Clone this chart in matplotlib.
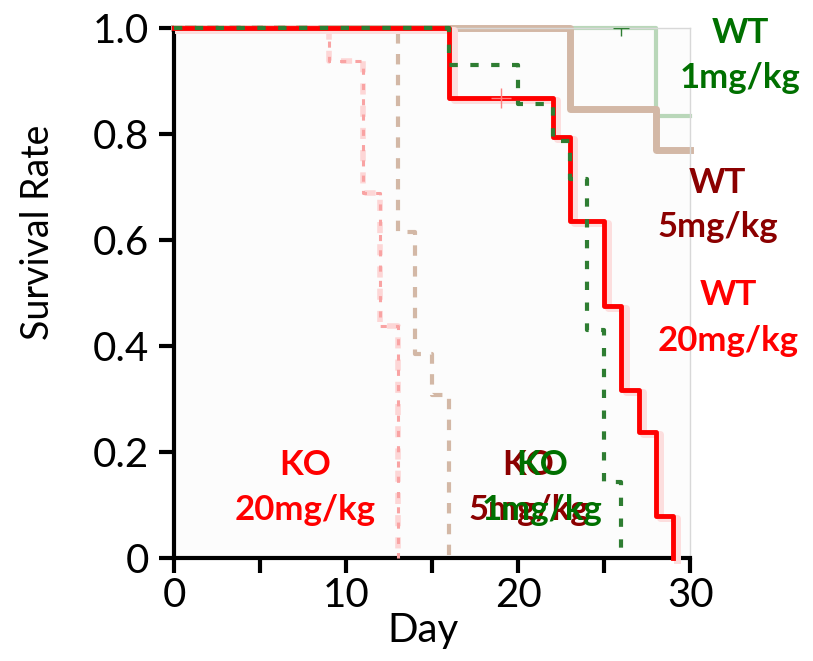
import matplotlib.pyplot as plt

plt.rcParams['font.family'] = ['Lato', 'DejaVu Sans']

# Kaplan-Meier style survival steps (day, survival)
ko20_t = [0, 9, 11, 12, 13]
ko20_s = [1.0, 0.9375, 0.6875, 0.4375, 0.0]
ko5_t = [0, 13, 14, 15, 16]
ko5_s = [1.0, 0.615, 0.385, 0.308, 0.0]
ko1_t = [0, 16, 20, 22, 23, 24, 25, 26]
ko1_s = [1.0, 0.929, 0.857, 0.786, 0.714, 0.429, 0.143, 0.0]
wt20_t = [0, 16, 22, 23, 25, 26, 27, 28, 29]
wt20_s = [1.0, 0.867, 0.794, 0.635, 0.476, 0.317, 0.238, 0.079, 0.0]
wt5_t = [0, 23, 28, 30]
wt5_s = [1.0, 0.846, 0.769, 0.769]
wt1_t = [0, 28, 30]
wt1_s = [1.0, 0.833, 0.833]

# censored observations
wt20_cens = ([19], [0.867])
wt1_cens = ([26], [1.0])

fig = plt.figure(figsize=(8.13, 6.61), dpi=100)
ax = fig.add_axes([0.214, 0.156, 0.635, 0.802])
ax.set_facecolor('#fcfcfc')

# WT 1 mg/kg
ax.step(wt1_t, wt1_s, where='post', color='#b9d7b9', lw=3, clip_on=False, zorder=2)
ax.plot(*wt1_cens, '+', color='#2e7d32', ms=12, mew=1, zorder=3)
# WT 5 mg/kg
ax.step(wt5_t, wt5_s, where='post', color='#8b3a10', lw=1.5, clip_on=False, zorder=2)
ax.step(wt5_t, wt5_s, where='post', color='#d3b8a6', lw=5, clip_on=False, zorder=2)
# KO 20 mg/kg
ax.step(ko20_t, ko20_s, where='post', color='#fdd6d6', lw=4, ls=(0, (2, 2)), clip_on=False, zorder=3)
ax.step(ko20_t, ko20_s, where='post', color='#f9a3a3', lw=2.2, ls=(0, (2, 3)), clip_on=False, zorder=3)
# KO 5 mg/kg
ax.step(ko5_t, ko5_s, where='post', color='#d3b8a6', lw=3, ls=(0, (2.5, 2.5)), clip_on=False, zorder=3)
# WT 20 mg/kg
ax.step([t + 0.25 for t in wt20_t], [s - 0.004 for s in wt20_s], where='post',
        color='#fcdede', lw=5, clip_on=False, zorder=3)
ax.step(wt20_t, wt20_s, where='post', color='#ff0000', lw=3.5, clip_on=False, zorder=4)
ax.plot(*wt20_cens, '+', color='#ff8080', ms=14, mew=1, zorder=5)
# KO 1 mg/kg
ax.step(ko1_t, ko1_s, where='post', color='#2e7d32', lw=3, ls=(0, (2, 3)), clip_on=False, zorder=5)

ax.set_xlim(0, 30)
ax.set_ylim(0, 1.0)
ax.set_xticks([0, 5, 10, 15, 20, 25, 30])
ax.set_xticklabels(['0', '', '10', '', '20', '', '30'])
ax.set_yticks([0, 0.2, 0.4, 0.6, 0.8, 1.0])
ax.set_yticklabels(['0', '0.2', '0.4', '0.6', '0.8', '1.0'])
ax.tick_params(labelsize=29, width=3, length=11, direction='out')
ax.tick_params(axis='y', pad=7)
ax.tick_params(axis='x', pad=3)
for side in ['left', 'bottom']:
    ax.spines[side].set_linewidth(3)
for side in ['top', 'right']:
    ax.spines[side].set_color('#d8d8d8')
    ax.spines[side].set_linewidth(1)
ax.set_xlabel('Day', fontsize=29)
ax.set_ylabel('Survival Rate', fontsize=27)
ax.xaxis.set_label_coords(0.483, -0.102)
ax.yaxis.set_label_coords(-0.228, 0.615)

lab = dict(fontsize=25, fontweight='bold', ha='center', va='center', clip_on=False)
ax.text(7.6, 0.175, 'KO', color='#ff0000', **lab)
ax.text(7.6, 0.09, '20mg/kg', color='#ff0000', **lab)
ax.text(20.6, 0.175, 'KO', color='#8b0000', **lab)
ax.text(20.6, 0.09, '5mg/kg', color='#8b0000', **lab)
ax.text(21.4, 0.175, 'KO', color='#007000', **lab)
ax.text(21.4, 0.09, '1mg/kg', color='#007000', **lab)
ax.text(32.9, 0.99, 'WT', color='#007000', **lab)
ax.text(32.9, 0.905, '1mg/kg', color='#007000', **lab)
ax.text(31.6, 0.707, 'WT', color='#8b0000', **lab)
ax.text(31.6, 0.625, '5mg/kg', color='#8b0000', **lab)
ax.text(32.2, 0.495, 'WT', color='#ff0000', **lab)
ax.text(32.2, 0.41, '20mg/kg', color='#ff0000', **lab)

fig.savefig('out.png', dpi=100)
